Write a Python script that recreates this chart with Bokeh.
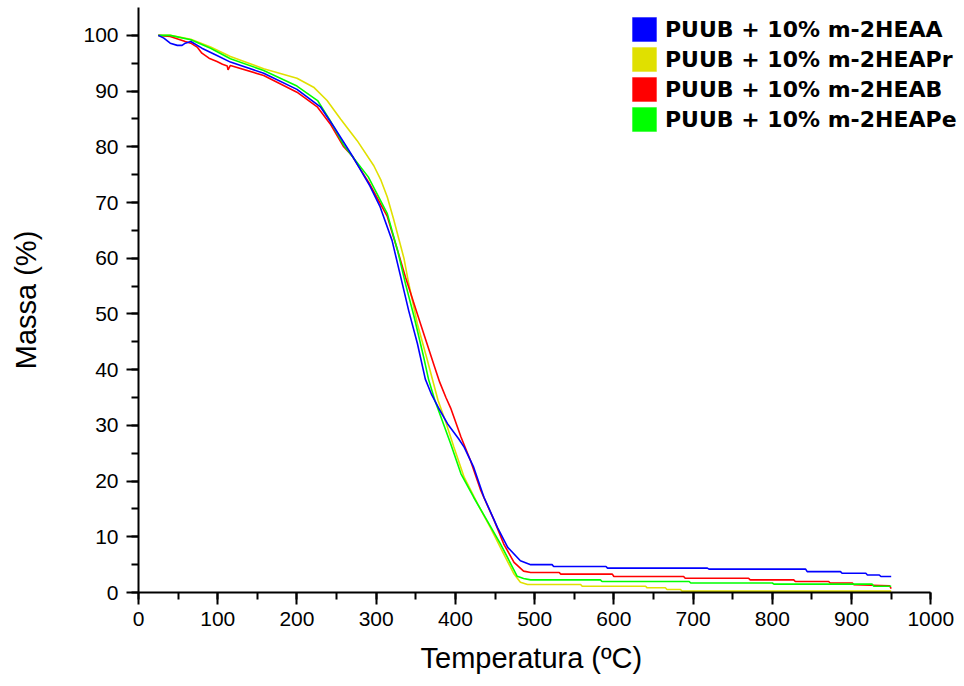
from bokeh.plotting import figure
from bokeh.models import FixedTicker, Legend, LegendItem, Range1d, Title
from bokeh.embed import file_html
from bokeh.resources import INLINE

# Thermogravimetric curves: temperature (ºC) vs remaining mass (%)
temp_heaa = [25, 32, 40, 49, 55, 59, 66, 80, 99, 116, 158, 200, 230, 247, 268, 278, 292,
             305, 320, 331, 341, 352, 362, 370, 380, 390, 404, 411, 423, 436, 453, 466,
             482, 495, 522, 524, 590, 592, 718, 720, 842, 844, 886, 888, 918, 920, 935,
             937, 950]
mass_heaa = [100, 99.5, 98.6, 98.2, 98.2, 98.6, 98.9, 97.7, 96.4, 95.2, 93.2, 90.3, 87.1,
             83.5, 78.8, 76.4, 73.0, 69.2, 63.2, 56.6, 50.6, 44.7, 38.3, 35.5, 32.8, 30.3,
             27.6, 26.1, 22.5, 17.1, 11.7, 8.1, 5.7, 5.0, 5.0, 4.67, 4.67, 4.37, 4.37, 4.2,
             4.2, 3.75, 3.75, 3.45, 3.45, 3.15, 3.15, 2.87, 2.87]

temp_heapr = [25, 40, 66, 91, 116, 158, 200, 221, 238, 255, 276, 297, 306, 314, 322, 335,
              341, 352, 364, 378, 388, 398, 411, 428, 444, 461, 474, 482, 491, 558, 560,
              640, 642, 665, 667, 684, 686, 950]
mass_heapr = [100, 100, 99.3, 97.9, 96.2, 94.0, 92.3, 90.7, 88.3, 85.0, 81.1, 76.6, 74.0,
              71.0, 67.0, 60.0, 55.5, 48.2, 42.0, 34.5, 30.5, 26.1, 20.7, 15.9, 11.7, 6.9,
              3.3, 1.85, 1.44, 1.44, 1.13, 1.13, 0.84, 0.84, 0.54, 0.54, 0.24, 0.24]

temp_heab = [25, 40, 59, 66, 74, 80, 89, 99, 106, 112, 113, 116, 158, 200, 226, 242, 259,
             270, 280, 291, 314, 327, 337, 356, 373, 380, 388, 394, 407, 419, 432, 449,
             461, 474, 486, 495, 531, 533, 598, 600, 688, 690, 770, 772, 827, 829, 871,
             873, 901, 903, 948, 950]
mass_heab = [100, 99.8, 98.9, 98.6, 97.9, 96.8, 95.9, 95.3, 94.8, 94.5, 93.8, 94.6, 92.8,
             89.8, 87.1, 84.1, 80.0, 78.3, 76.0, 73.5, 67.5, 61.4, 56.6, 48.2, 40.8, 37.8,
             35.0, 33.1, 27.9, 23.7, 18.3, 12.9, 8.7, 5.4, 3.84, 3.6, 3.6, 3.3, 3.3, 2.87,
             2.87, 2.57, 2.57, 2.27, 2.27, 1.97, 1.97, 1.7, 1.7, 1.4, 1.2, 0.7]

temp_heape = [25, 40, 66, 91, 116, 158, 200, 226, 242, 259, 268, 290, 314, 327, 337, 348,
              360, 366, 374, 394, 407, 423, 440, 457, 470, 478, 486, 495, 583, 585, 695,
              697, 800, 802, 926, 928, 950]
mass_heape = [100, 100, 99.2, 97.7, 95.8, 93.7, 90.9, 88.3, 84.7, 80.3, 78.6, 74.6, 68.0,
              61.4, 55.4, 49.4, 42.2, 38.3, 34.5, 26.7, 21.3, 17.1, 12.9, 8.7, 5.1, 2.9,
              2.5, 2.27, 2.27, 1.97, 1.97, 1.7, 1.7, 1.5, 1.5, 1.13, 1.13]

labels = ["PUUB + 10% m-2HEAA", "PUUB + 10% m-2HEAPr",
          "PUUB + 10% m-2HEAB", "PUUB + 10% m-2HEAPe"]
colors = ["#0000FF", "#E0E000", "#FF0000", "#00FF00"]

x_ticks = list(range(0, 1001, 100))
x_minor = list(range(0, 1001, 50))
y_ticks = list(range(0, 101, 10))
y_minor = list(range(0, 101, 5))

# the x range runs a little past 1000 so the legend has room; the axis line stops at 1000
p = figure(width=964, height=686, output_backend="svg", toolbar_location=None,
           x_range=Range1d(0, 1040), y_range=Range1d(0, 105),
           min_border_left=138, min_border_right=2, min_border_top=7,
           min_border_bottom=94, background_fill_color="white",
           border_fill_color="white")
p.outline_line_color = None
p.xgrid.visible = False
p.ygrid.visible = False

series = {
    0: (temp_heaa, mass_heaa),
    1: (temp_heapr, mass_heapr),
    2: (temp_heab, mass_heab),
    3: (temp_heape, mass_heape),
}
# drawing order: yellow, red, green, blue on top
for i in [1, 2, 3, 0]:
    t, m = series[i]
    p.line(t, m, line_color=colors[i], line_width=1.6)

# axes
for ax in (p.xaxis[0], p.yaxis[0]):
    ax.axis_line_width = 2
    ax.axis_line_color = "black"
    ax.major_tick_line_width = 2
    ax.minor_tick_line_width = 2
    ax.major_tick_in = 0
    ax.minor_tick_in = 0
    ax.major_tick_out = 12
    ax.minor_tick_out = 7
    ax.major_label_text_font = "Liberation Sans"
    ax.major_label_text_font_size = "21px"
    ax.major_label_text_color = "black"
    ax.axis_label_text_font = "Liberation Sans"
    ax.axis_label_text_font_style = "normal"
    ax.axis_label_text_font_size = "29px"
    ax.axis_label_text_color = "black"

p.xaxis.bounds = (0, 1000)
p.xaxis.ticker = FixedTicker(ticks=x_ticks, minor_ticks=x_minor)
p.yaxis.ticker = FixedTicker(ticks=y_ticks, minor_ticks=y_minor)
p.yaxis.axis_label = "Massa (%)"
p.xaxis.major_label_standoff = 7
p.yaxis.major_label_standoff = 8
p.yaxis.axis_label_standoff = 38

# x-axis title, centred under the 0-1000 axis span rather than the wider frame
x_title = Title(text="Temperatura (ºC)", align="left", offset=282,
                text_font="Liberation Sans", text_font_size="29px",
                text_font_style="normal", text_color="black", standoff=23)
p.add_layout(x_title, "below")

# legend with filled square swatches (zero-size quads act as legend proxies)
items = []
for i in range(4):
    r = p.quad(left=[0], right=[0], top=[0], bottom=[0], fill_color=colors[i],
               line_color=colors[i], line_alpha=0.4, line_width=1)
    items.append(LegendItem(label=labels[i], renderers=[r]))

legend = Legend(items=items, location=(491, 458), orientation="vertical",
                glyph_width=30, glyph_height=30, spacing=-5, padding=0, margin=0,
                label_standoff=6, label_text_font="DejaVu Sans",
                label_text_font_style="bold", label_text_font_size="22px",
                label_text_color="black", border_line_color=None,
                background_fill_alpha=0)
p.add_layout(legend)

open("out.html", "w").write(file_html(p, INLINE))
